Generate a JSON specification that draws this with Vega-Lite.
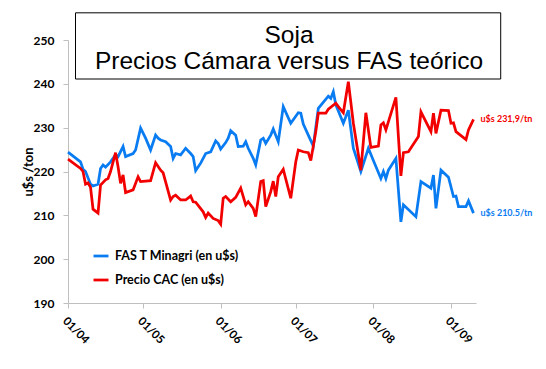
{
  "$schema": "https://vega.github.io/schema/vega-lite/v6.json",
  "width": 408,
  "height": 263,
  "autosize": {"type": "none"},
  "padding": {"left": 68, "top": 40, "right": 70, "bottom": 66},
  "background": "white",
  "title": {
    "text": ["Soja", "Precios Cámara versus FAS teórico"],
    "font": "Liberation Sans",
    "fontSize": 24.5,
    "fontWeight": "normal",
    "color": "black",
    "anchor": "middle",
    "dx": 17,
    "offset": -62,
    "lineHeight": 26
  },
  "config": {
    "view": {"stroke": null},
    "axis": {
      "grid": false,
      "domainColor": "#bfbfbf",
      "tickColor": "#bfbfbf",
      "tickSize": 5,
      "labelFont": "Lato",
      "labelFontWeight": "bold",
      "labelColor": "black",
      "titleFont": "Lato",
      "titleColor": "black"
    }
  },
  "datasets": {
    "series": [
      {"fecha": "2009-04-01", "serie": "FAS T Minagri (en u$s)", "valor": 224.4},
      {"fecha": "2009-04-06", "serie": "FAS T Minagri (en u$s)", "valor": 222.2},
      {"fecha": "2009-04-07", "serie": "FAS T Minagri (en u$s)", "valor": 220.5},
      {"fecha": "2009-04-08", "serie": "FAS T Minagri (en u$s)", "valor": 220.0},
      {"fecha": "2009-04-10", "serie": "FAS T Minagri (en u$s)", "valor": 217.1},
      {"fecha": "2009-04-11", "serie": "FAS T Minagri (en u$s)", "valor": 216.7},
      {"fecha": "2009-04-13", "serie": "FAS T Minagri (en u$s)", "valor": 217.1},
      {"fecha": "2009-04-14", "serie": "FAS T Minagri (en u$s)", "valor": 220.7},
      {"fecha": "2009-04-15", "serie": "FAS T Minagri (en u$s)", "valor": 221.5},
      {"fecha": "2009-04-16", "serie": "FAS T Minagri (en u$s)", "valor": 221.0},
      {"fecha": "2009-04-18", "serie": "FAS T Minagri (en u$s)", "valor": 222.2},
      {"fecha": "2009-04-20", "serie": "FAS T Minagri (en u$s)", "valor": 223.8},
      {"fecha": "2009-04-21", "serie": "FAS T Minagri (en u$s)", "valor": 223.4},
      {"fecha": "2009-04-23", "serie": "FAS T Minagri (en u$s)", "valor": 225.7},
      {"fecha": "2009-04-24", "serie": "FAS T Minagri (en u$s)", "valor": 223.4},
      {"fecha": "2009-04-27", "serie": "FAS T Minagri (en u$s)", "valor": 224.1},
      {"fecha": "2009-04-28", "serie": "FAS T Minagri (en u$s)", "valor": 224.9},
      {"fecha": "2009-04-30", "serie": "FAS T Minagri (en u$s)", "valor": 229.9},
      {"fecha": "2009-05-02", "serie": "FAS T Minagri (en u$s)", "valor": 227.6},
      {"fecha": "2009-05-04", "serie": "FAS T Minagri (en u$s)", "valor": 224.9},
      {"fecha": "2009-05-06", "serie": "FAS T Minagri (en u$s)", "valor": 228.3},
      {"fecha": "2009-05-07", "serie": "FAS T Minagri (en u$s)", "valor": 227.6},
      {"fecha": "2009-05-08", "serie": "FAS T Minagri (en u$s)", "valor": 227.2},
      {"fecha": "2009-05-10", "serie": "FAS T Minagri (en u$s)", "valor": 226.8},
      {"fecha": "2009-05-12", "serie": "FAS T Minagri (en u$s)", "valor": 225.7},
      {"fecha": "2009-05-13", "serie": "FAS T Minagri (en u$s)", "valor": 223.0},
      {"fecha": "2009-05-14", "serie": "FAS T Minagri (en u$s)", "valor": 224.1},
      {"fecha": "2009-05-16", "serie": "FAS T Minagri (en u$s)", "valor": 223.8},
      {"fecha": "2009-05-18", "serie": "FAS T Minagri (en u$s)", "valor": 225.3},
      {"fecha": "2009-05-20", "serie": "FAS T Minagri (en u$s)", "valor": 224.1},
      {"fecha": "2009-05-21", "serie": "FAS T Minagri (en u$s)", "valor": 223.4},
      {"fecha": "2009-05-22", "serie": "FAS T Minagri (en u$s)", "valor": 220.2},
      {"fecha": "2009-05-24", "serie": "FAS T Minagri (en u$s)", "valor": 221.9},
      {"fecha": "2009-05-26", "serie": "FAS T Minagri (en u$s)", "valor": 224.1},
      {"fecha": "2009-05-28", "serie": "FAS T Minagri (en u$s)", "valor": 224.5},
      {"fecha": "2009-05-30", "serie": "FAS T Minagri (en u$s)", "valor": 227.0},
      {"fecha": "2009-05-31", "serie": "FAS T Minagri (en u$s)", "valor": 226.4},
      {"fecha": "2009-06-01", "serie": "FAS T Minagri (en u$s)", "valor": 225.1},
      {"fecha": "2009-06-03", "serie": "FAS T Minagri (en u$s)", "valor": 226.6},
      {"fecha": "2009-06-04", "serie": "FAS T Minagri (en u$s)", "valor": 227.6},
      {"fecha": "2009-06-05", "serie": "FAS T Minagri (en u$s)", "valor": 229.3},
      {"fecha": "2009-06-07", "serie": "FAS T Minagri (en u$s)", "valor": 228.3},
      {"fecha": "2009-06-08", "serie": "FAS T Minagri (en u$s)", "valor": 225.7},
      {"fecha": "2009-06-10", "serie": "FAS T Minagri (en u$s)", "valor": 225.8},
      {"fecha": "2009-06-11", "serie": "FAS T Minagri (en u$s)", "valor": 226.8},
      {"fecha": "2009-06-12", "serie": "FAS T Minagri (en u$s)", "valor": 225.3},
      {"fecha": "2009-06-14", "serie": "FAS T Minagri (en u$s)", "valor": 223.0},
      {"fecha": "2009-06-15", "serie": "FAS T Minagri (en u$s)", "valor": 221.5},
      {"fecha": "2009-06-17", "serie": "FAS T Minagri (en u$s)", "valor": 227.2},
      {"fecha": "2009-06-18", "serie": "FAS T Minagri (en u$s)", "valor": 227.6},
      {"fecha": "2009-06-19", "serie": "FAS T Minagri (en u$s)", "valor": 226.4},
      {"fecha": "2009-06-21", "serie": "FAS T Minagri (en u$s)", "valor": 228.3},
      {"fecha": "2009-06-22", "serie": "FAS T Minagri (en u$s)", "valor": 229.7},
      {"fecha": "2009-06-24", "serie": "FAS T Minagri (en u$s)", "valor": 226.8},
      {"fecha": "2009-06-26", "serie": "FAS T Minagri (en u$s)", "valor": 234.8},
      {"fecha": "2009-06-29", "serie": "FAS T Minagri (en u$s)", "valor": 231.0},
      {"fecha": "2009-07-02", "serie": "FAS T Minagri (en u$s)", "valor": 233.4},
      {"fecha": "2009-07-03", "serie": "FAS T Minagri (en u$s)", "valor": 233.3},
      {"fecha": "2009-07-04", "serie": "FAS T Minagri (en u$s)", "valor": 230.8},
      {"fecha": "2009-07-06", "serie": "FAS T Minagri (en u$s)", "valor": 228.3},
      {"fecha": "2009-07-08", "serie": "FAS T Minagri (en u$s)", "valor": 225.8},
      {"fecha": "2009-07-10", "serie": "FAS T Minagri (en u$s)", "valor": 234.4},
      {"fecha": "2009-07-14", "serie": "FAS T Minagri (en u$s)", "valor": 237.2},
      {"fecha": "2009-07-15", "serie": "FAS T Minagri (en u$s)", "valor": 236.7},
      {"fecha": "2009-07-16", "serie": "FAS T Minagri (en u$s)", "valor": 238.2},
      {"fecha": "2009-07-17", "serie": "FAS T Minagri (en u$s)", "valor": 235.2},
      {"fecha": "2009-07-20", "serie": "FAS T Minagri (en u$s)", "valor": 231.0},
      {"fecha": "2009-07-22", "serie": "FAS T Minagri (en u$s)", "valor": 234.0},
      {"fecha": "2009-07-24", "serie": "FAS T Minagri (en u$s)", "valor": 225.3},
      {"fecha": "2009-07-27", "serie": "FAS T Minagri (en u$s)", "valor": 220.0},
      {"fecha": "2009-07-30", "serie": "FAS T Minagri (en u$s)", "valor": 225.3},
      {"fecha": "2009-08-01", "serie": "FAS T Minagri (en u$s)", "valor": 222.5},
      {"fecha": "2009-08-04", "serie": "FAS T Minagri (en u$s)", "valor": 218.4},
      {"fecha": "2009-08-05", "serie": "FAS T Minagri (en u$s)", "valor": 220.0},
      {"fecha": "2009-08-06", "serie": "FAS T Minagri (en u$s)", "valor": 218.4},
      {"fecha": "2009-08-07", "serie": "FAS T Minagri (en u$s)", "valor": 220.3},
      {"fecha": "2009-08-10", "serie": "FAS T Minagri (en u$s)", "valor": 223.0},
      {"fecha": "2009-08-12", "serie": "FAS T Minagri (en u$s)", "valor": 208.5},
      {"fecha": "2009-08-13", "serie": "FAS T Minagri (en u$s)", "valor": 212.4},
      {"fecha": "2009-08-18", "serie": "FAS T Minagri (en u$s)", "valor": 209.7},
      {"fecha": "2009-08-20", "serie": "FAS T Minagri (en u$s)", "valor": 217.7},
      {"fecha": "2009-08-24", "serie": "FAS T Minagri (en u$s)", "valor": 216.2},
      {"fecha": "2009-08-25", "serie": "FAS T Minagri (en u$s)", "valor": 219.2},
      {"fecha": "2009-08-26", "serie": "FAS T Minagri (en u$s)", "valor": 211.6},
      {"fecha": "2009-08-28", "serie": "FAS T Minagri (en u$s)", "valor": 220.3},
      {"fecha": "2009-08-31", "serie": "FAS T Minagri (en u$s)", "valor": 218.7},
      {"fecha": "2009-09-02", "serie": "FAS T Minagri (en u$s)", "valor": 214.3},
      {"fecha": "2009-09-03", "serie": "FAS T Minagri (en u$s)", "valor": 214.4},
      {"fecha": "2009-09-04", "serie": "FAS T Minagri (en u$s)", "valor": 212.0},
      {"fecha": "2009-09-07", "serie": "FAS T Minagri (en u$s)", "valor": 212.0},
      {"fecha": "2009-09-08", "serie": "FAS T Minagri (en u$s)", "valor": 213.3},
      {"fecha": "2009-09-10", "serie": "FAS T Minagri (en u$s)", "valor": 210.5},
      {"fecha": "2009-04-01", "serie": "Precio CAC (en u$s)", "valor": 222.8},
      {"fecha": "2009-04-06", "serie": "Precio CAC (en u$s)", "valor": 220.7},
      {"fecha": "2009-04-07", "serie": "Precio CAC (en u$s)", "valor": 220.0},
      {"fecha": "2009-04-08", "serie": "Precio CAC (en u$s)", "valor": 217.1},
      {"fecha": "2009-04-09", "serie": "Precio CAC (en u$s)", "valor": 217.4},
      {"fecha": "2009-04-10", "serie": "Precio CAC (en u$s)", "valor": 216.4},
      {"fecha": "2009-04-11", "serie": "Precio CAC (en u$s)", "valor": 211.4},
      {"fecha": "2009-04-13", "serie": "Precio CAC (en u$s)", "valor": 210.5},
      {"fecha": "2009-04-14", "serie": "Precio CAC (en u$s)", "valor": 216.9},
      {"fecha": "2009-04-16", "serie": "Precio CAC (en u$s)", "valor": 218.1},
      {"fecha": "2009-04-17", "serie": "Precio CAC (en u$s)", "valor": 218.4},
      {"fecha": "2009-04-18", "serie": "Precio CAC (en u$s)", "valor": 220.0},
      {"fecha": "2009-04-20", "serie": "Precio CAC (en u$s)", "valor": 224.3},
      {"fecha": "2009-04-21", "serie": "Precio CAC (en u$s)", "valor": 221.1},
      {"fecha": "2009-04-22", "serie": "Precio CAC (en u$s)", "valor": 217.3},
      {"fecha": "2009-04-23", "serie": "Precio CAC (en u$s)", "valor": 219.2},
      {"fecha": "2009-04-24", "serie": "Precio CAC (en u$s)", "valor": 215.2},
      {"fecha": "2009-04-27", "serie": "Precio CAC (en u$s)", "valor": 215.8},
      {"fecha": "2009-04-29", "serie": "Precio CAC (en u$s)", "valor": 218.8},
      {"fecha": "2009-04-30", "serie": "Precio CAC (en u$s)", "valor": 217.7},
      {"fecha": "2009-05-04", "serie": "Precio CAC (en u$s)", "valor": 217.9},
      {"fecha": "2009-05-06", "serie": "Precio CAC (en u$s)", "valor": 222.0},
      {"fecha": "2009-05-08", "serie": "Precio CAC (en u$s)", "valor": 220.3},
      {"fecha": "2009-05-09", "serie": "Precio CAC (en u$s)", "valor": 219.7},
      {"fecha": "2009-05-12", "serie": "Precio CAC (en u$s)", "valor": 213.5},
      {"fecha": "2009-05-13", "serie": "Precio CAC (en u$s)", "valor": 214.3},
      {"fecha": "2009-05-14", "serie": "Precio CAC (en u$s)", "valor": 214.6},
      {"fecha": "2009-05-16", "serie": "Precio CAC (en u$s)", "valor": 213.5},
      {"fecha": "2009-05-18", "serie": "Precio CAC (en u$s)", "valor": 213.5},
      {"fecha": "2009-05-20", "serie": "Precio CAC (en u$s)", "valor": 214.4},
      {"fecha": "2009-05-21", "serie": "Precio CAC (en u$s)", "valor": 213.1},
      {"fecha": "2009-05-22", "serie": "Precio CAC (en u$s)", "valor": 213.0},
      {"fecha": "2009-05-25", "serie": "Precio CAC (en u$s)", "valor": 210.8},
      {"fecha": "2009-05-26", "serie": "Precio CAC (en u$s)", "valor": 209.5},
      {"fecha": "2009-05-27", "serie": "Precio CAC (en u$s)", "valor": 210.5},
      {"fecha": "2009-05-29", "serie": "Precio CAC (en u$s)", "valor": 209.3},
      {"fecha": "2009-05-31", "serie": "Precio CAC (en u$s)", "valor": 208.8},
      {"fecha": "2009-06-01", "serie": "Precio CAC (en u$s)", "valor": 208.0},
      {"fecha": "2009-06-02", "serie": "Precio CAC (en u$s)", "valor": 213.9},
      {"fecha": "2009-06-03", "serie": "Precio CAC (en u$s)", "valor": 214.3},
      {"fecha": "2009-06-05", "serie": "Precio CAC (en u$s)", "valor": 213.1},
      {"fecha": "2009-06-07", "serie": "Precio CAC (en u$s)", "valor": 214.1},
      {"fecha": "2009-06-09", "serie": "Precio CAC (en u$s)", "valor": 216.2},
      {"fecha": "2009-06-11", "serie": "Precio CAC (en u$s)", "valor": 212.4},
      {"fecha": "2009-06-12", "serie": "Precio CAC (en u$s)", "valor": 213.1},
      {"fecha": "2009-06-14", "serie": "Precio CAC (en u$s)", "valor": 211.6},
      {"fecha": "2009-06-15", "serie": "Precio CAC (en u$s)", "valor": 209.7},
      {"fecha": "2009-06-17", "serie": "Precio CAC (en u$s)", "valor": 217.7},
      {"fecha": "2009-06-18", "serie": "Precio CAC (en u$s)", "valor": 217.9},
      {"fecha": "2009-06-19", "serie": "Precio CAC (en u$s)", "valor": 212.0},
      {"fecha": "2009-06-21", "serie": "Precio CAC (en u$s)", "valor": 215.4},
      {"fecha": "2009-06-22", "serie": "Precio CAC (en u$s)", "valor": 217.8},
      {"fecha": "2009-06-23", "serie": "Precio CAC (en u$s)", "valor": 214.3},
      {"fecha": "2009-06-24", "serie": "Precio CAC (en u$s)", "valor": 218.8},
      {"fecha": "2009-06-26", "serie": "Precio CAC (en u$s)", "valor": 220.5},
      {"fecha": "2009-06-29", "serie": "Precio CAC (en u$s)", "valor": 213.9},
      {"fecha": "2009-07-01", "serie": "Precio CAC (en u$s)", "valor": 222.2},
      {"fecha": "2009-07-02", "serie": "Precio CAC (en u$s)", "valor": 224.9},
      {"fecha": "2009-07-04", "serie": "Precio CAC (en u$s)", "valor": 224.5},
      {"fecha": "2009-07-06", "serie": "Precio CAC (en u$s)", "valor": 224.3},
      {"fecha": "2009-07-07", "serie": "Precio CAC (en u$s)", "valor": 222.5},
      {"fecha": "2009-07-09", "serie": "Precio CAC (en u$s)", "valor": 229.1},
      {"fecha": "2009-07-10", "serie": "Precio CAC (en u$s)", "valor": 233.3},
      {"fecha": "2009-07-13", "serie": "Precio CAC (en u$s)", "valor": 233.3},
      {"fecha": "2009-07-14", "serie": "Precio CAC (en u$s)", "valor": 234.2},
      {"fecha": "2009-07-17", "serie": "Precio CAC (en u$s)", "valor": 235.6},
      {"fecha": "2009-07-18", "serie": "Precio CAC (en u$s)", "valor": 234.8},
      {"fecha": "2009-07-20", "serie": "Precio CAC (en u$s)", "valor": 233.4},
      {"fecha": "2009-07-22", "serie": "Precio CAC (en u$s)", "valor": 240.5},
      {"fecha": "2009-07-24", "serie": "Precio CAC (en u$s)", "valor": 231.0},
      {"fecha": "2009-07-27", "serie": "Precio CAC (en u$s)", "valor": 220.3},
      {"fecha": "2009-07-29", "serie": "Precio CAC (en u$s)", "valor": 233.4},
      {"fecha": "2009-07-31", "serie": "Precio CAC (en u$s)", "valor": 225.5},
      {"fecha": "2009-08-03", "serie": "Precio CAC (en u$s)", "valor": 225.8},
      {"fecha": "2009-08-04", "serie": "Precio CAC (en u$s)", "valor": 230.6},
      {"fecha": "2009-08-05", "serie": "Precio CAC (en u$s)", "valor": 231.1},
      {"fecha": "2009-08-06", "serie": "Precio CAC (en u$s)", "valor": 229.5},
      {"fecha": "2009-08-10", "serie": "Precio CAC (en u$s)", "valor": 236.9},
      {"fecha": "2009-08-12", "serie": "Precio CAC (en u$s)", "valor": 219.0},
      {"fecha": "2009-08-13", "serie": "Precio CAC (en u$s)", "valor": 224.3},
      {"fecha": "2009-08-15", "serie": "Precio CAC (en u$s)", "valor": 224.5},
      {"fecha": "2009-08-19", "serie": "Precio CAC (en u$s)", "valor": 228.0},
      {"fecha": "2009-08-20", "serie": "Precio CAC (en u$s)", "valor": 233.6},
      {"fecha": "2009-08-24", "serie": "Precio CAC (en u$s)", "valor": 229.1},
      {"fecha": "2009-08-25", "serie": "Precio CAC (en u$s)", "valor": 233.3},
      {"fecha": "2009-08-26", "serie": "Precio CAC (en u$s)", "valor": 228.7},
      {"fecha": "2009-08-28", "serie": "Precio CAC (en u$s)", "valor": 234.0},
      {"fecha": "2009-08-31", "serie": "Precio CAC (en u$s)", "valor": 233.9},
      {"fecha": "2009-09-01", "serie": "Precio CAC (en u$s)", "valor": 231.0},
      {"fecha": "2009-09-02", "serie": "Precio CAC (en u$s)", "valor": 231.1},
      {"fecha": "2009-09-03", "serie": "Precio CAC (en u$s)", "valor": 229.1},
      {"fecha": "2009-09-07", "serie": "Precio CAC (en u$s)", "valor": 227.3},
      {"fecha": "2009-09-08", "serie": "Precio CAC (en u$s)", "valor": 229.5},
      {"fecha": "2009-09-10", "serie": "Precio CAC (en u$s)", "valor": 231.9}
    ],
    "etiquetas": [
      {"fecha": "2009-09-10", "serie": "FAS T Minagri (en u$s)", "valor": 210.5, "etiqueta": "u$s 210.5/tn"},
      {"fecha": "2009-09-10", "serie": "Precio CAC (en u$s)", "valor": 231.9, "etiqueta": "u$s 231,9/tn"}
    ]
  },
  "layer": [
    {
      "data": {"name": "series"},
      "mark": {"type": "line", "strokeWidth": 2.75},
      "encoding": {
        "x": {
          "field": "fecha",
          "type": "temporal",
          "scale": {
            "type": "utc",
            "domain": [
              {"year": 2009, "month": 4, "date": 1, "utc": true},
              {"year": 2009, "month": 9, "date": 11, "utc": true}
            ]
          },
          "axis": {
            "title": null,
            "values": [
              {"year": 2009, "month": 4, "date": 1, "utc": true},
              {"year": 2009, "month": 5, "date": 1, "utc": true},
              {"year": 2009, "month": 6, "date": 1, "utc": true},
              {"year": 2009, "month": 7, "date": 1, "utc": true},
              {"year": 2009, "month": 8, "date": 1, "utc": true},
              {"year": 2009, "month": 9, "date": 1, "utc": true}
            ],
            "format": "%d/%m",
            "labelAngle": 45,
            "labelFontSize": 11.5,
            "labelPadding": 7
          }
        },
        "y": {
          "field": "valor",
          "type": "quantitative",
          "scale": {"domain": [190, 250], "nice": false, "zero": false},
          "axis": {
            "title": "u$s /ton",
            "titleFontSize": 13,
            "titleFontWeight": "bold",
            "titlePadding": -2,
            "values": [190, 200, 210, 220, 230, 240, 250],
            "labelFontSize": 12,
            "labelPadding": 9
          }
        },
        "color": {
          "field": "serie",
          "type": "nominal",
          "scale": {
            "domain": ["FAS T Minagri (en u$s)", "Precio CAC (en u$s)"],
            "range": ["#0a7cf2", "#f20000"]
          },
          "legend": {
            "title": null,
            "orient": "none",
            "legendX": 24,
            "legendY": 207,
            "symbolType": "stroke",
            "symbolSize": 225,
            "symbolStrokeWidth": 2.75,
            "labelFont": "Lato",
            "labelFontSize": 12.5,
            "labelFontWeight": "bold",
            "labelColor": "black",
            "labelOffset": 5,
            "rowPadding": 8
          }
        }
      }
    },
    {
      "data": {"name": "etiquetas"},
      "mark": {"type": "text", "align": "left", "dx": 7, "font": "Lato", "fontSize": 9, "fontWeight": "bold"},
      "encoding": {
        "x": {"field": "fecha", "type": "temporal"},
        "y": {"field": "valor", "type": "quantitative"},
        "text": {"field": "etiqueta"},
        "color": {"field": "serie", "type": "nominal"}
      }
    },
    {
      "data": {"values": [{}]},
      "mark": {"type": "rect", "fill": null, "stroke": "black", "strokeWidth": 1},
      "encoding": {
        "x": {"datum": {"year": 2009, "month": 4, "date": 4, "utc": true}, "type": "temporal"},
        "x2": {"datum": {"year": 2009, "month": 9, "date": 20, "hours": 21, "utc": true}},
        "y": {"datum": 256.2},
        "y2": {"datum": 241.1}
      }
    }
  ]
}
